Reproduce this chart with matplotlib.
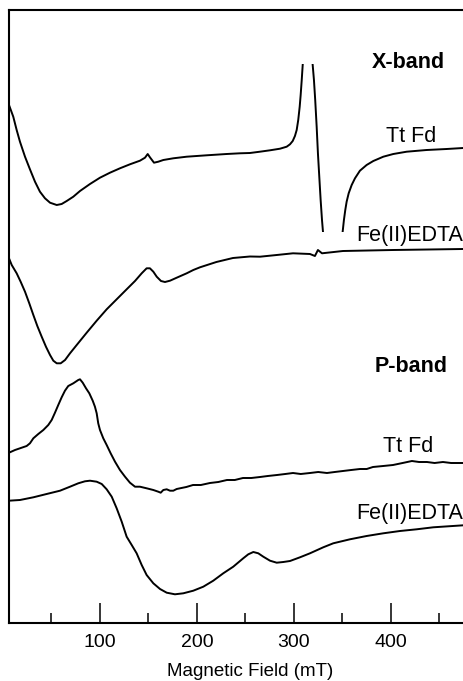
import matplotlib
matplotlib.use("Agg")
import matplotlib.pyplot as plt
from matplotlib.patches import Rectangle
from matplotlib.ticker import MultipleLocator

plt.rcParams['font.family'] = ['Liberation Sans', 'DejaVu Sans']

# ---- spectra (field in mT, derivative intensity in arbitrary units) ----
# X-band, Tt Fd (radical signal near g=2 runs off scale)
xb_fd_field = [6.2, 10.6, 14.1, 17.5, 22.7, 27.8, 33.0, 38.1, 43.3, 48.5, 55.4, 60.5,
               65.7, 72.5, 79.4, 89.7, 100.0, 110.3, 120.6, 130.9, 141.2, 146.4,
               149.2, 151.5, 155.7, 160.1, 165.3, 175.6, 189.4, 210.0, 230.6, 244.3,
               254.6, 264.9, 275.3, 285.6, 292.5, 295.9, 298.7, 301.0, 302.8, 304.4,
               305.9, 306.9, 308.0, 309.0, 313.9, 319.3, 320.6, 321.9, 323.4, 324.7,
               326.1, 327.5, 328.9, 329.9, 340.0, 350.2, 351.5, 352.9, 354.3, 356.4,
               359.5, 362.9, 368.0, 374.9, 381.8, 392.1, 402.4, 416.2, 436.8, 457.4,
               474.5]
xb_fd_signal = [48, 36.3, 23, 11.3, -3.7, -16.3, -28.7, -38.7, -45.3, -49.7, -52, -51,
                -48, -43.7, -38, -31, -24.7, -19.7, -15.3, -11.3, -7.7, -4.7,
                -1, -4.3, -9.7, -8.7, -7, -5.3, -3.7, -2.3, -1, -0.3,
                0, 1.3, 2.7, 4.3, 6.3, 8.7, 12, 17, 23, 33,
                46.3, 58, 73, 88, 150, 88, 73, 53, 26.3, -0.3,
                -23.7, -47, -67, -78.7, -140, -78.7, -67, -57, -48.7, -40.3,
                -32, -25.3, -17.7, -12, -8, -3.7, -1, 1.3, 3, 4,
                5]

# X-band, Fe(II)EDTA
xb_edta_field = [6.2, 9.0, 14.1, 18.2, 22.7, 27.1, 31.3, 35.4, 39.9, 44.3, 48.5, 51.9,
                 55.4, 59.5, 64.0, 69.1, 76.0, 86.3, 96.6, 106.9, 117.2, 127.5,
                 136.1, 143.0, 148.1, 151.5, 155.0, 158.5, 162.9, 167.0, 172.2, 179.1,
                 189.4, 196.2, 203.1, 220.0, 237.1, 254.6, 265.0, 282.2, 299.0, 316.5,
                 321.6, 324.7, 328.9, 350.5, 402.1, 474.2]
xb_edta_signal = [-8.3, -15, -23.3, -31.7, -41.7, -53.3, -65, -76, -86.7, -96.7, -105, -110.7,
                  -113.3, -113.3, -110, -103.3, -95, -82.7, -70.7, -59.3, -49.3, -39.3,
                  -31, -23.3, -18.3, -18.3, -21.7, -26.7, -31, -32, -30.7, -27.7,
                  -23.3, -20, -17.3, -12, -8, -6.5, -6.7, -5, -3.3, -4,
                  -6, 0, -3.3, -1, 0, 1]

# P-band, Tt Fd
pb_fd_field = [6.2, 12.4, 17.5, 24.4, 27.8, 31.3, 36.4, 41.6, 46.7, 50.2, 53.6, 57.0,
               60.5, 63.9, 67.3, 72.5, 77.6, 79.4, 82.2, 85.6, 89.0, 92.5, 94.8,
               96.6, 98.2, 100.0, 103.4, 106.9, 111.0, 115.5, 120.6, 125.8, 130.9,
               136.1, 141.2, 148.1, 155.0, 160.1, 162.6, 165.3, 168.8, 172.2, 175.6,
               179.1, 182.5, 189.0, 195.9, 204.0, 213.4, 222.0, 230.9, 239.0, 247.4,
               256.0, 265.0, 273.0, 282.5, 291.0, 299.0, 307.0, 316.5, 325.0, 334.0,
               342.0, 350.5, 359.0, 368.0, 375.0, 381.4, 392.0, 402.1, 412.0, 421.6,
               429.0, 437.1, 445.0, 453.6, 462.0, 474.2]
pb_fd_signal = [20.3, 23, 24.7, 27, 29.7, 34.7, 39, 43, 48, 53, 60.3, 68,
                75.7, 82.3, 87, 89.7, 93, 93.7, 90.3, 84.7, 79.7, 72.3, 66.3,
                59.7, 49.7, 43, 34.7, 28, 19.7, 11.3, 3, -3.7, -9.7,
                -13.7, -13.7, -15.3, -17, -18.7, -19.7, -17, -16.3, -17.7, -17.7,
                -16, -15.3, -14, -12, -12, -10, -9, -7, -7, -5,
                -5, -4, -3, -2, -1, 0, -1, 0, 1, 0,
                1, 2, 3, 4, 4, 6, 7, 8, 10, 12,
                11, 11, 10, 11, 10, 10]

# P-band, Fe(II)EDTA
pb_edta_field = [6.2, 17.5, 31.3, 45.0, 58.8, 69.1, 77.6, 84.5, 89.7, 96.6, 101.8,
                 106.9, 112.1, 117.2, 122.4, 127.5, 132.7, 137.8, 143.0, 148.1, 155.0,
                 161.9, 168.8, 177.3, 185.9, 196.2, 206.5, 216.8, 227.1, 237.4, 247.7,
                 252.9, 258.1, 263.2, 268.4, 275.3, 282.2, 289.0, 295.9, 306.2, 316.5,
                 330.2, 340.5, 357.7, 374.9, 392.1, 409.3, 426.5, 443.6, 474.6]
pb_edta_signal = [25.3, 26, 28.7, 32, 35.3, 39.3, 42.7, 44.7, 45.3, 44.3, 42,
                  36.7, 29.3, 17.7, 4.3, -10.7, -19, -27.3, -39, -49, -57.3,
                  -63, -66.7, -68.3, -67.3, -64.7, -60.7, -54.7, -47.3, -40.7, -32.3,
                  -28.3, -26, -27.3, -30.7, -34.7, -36.7, -36, -35, -31.3, -27.3,
                  -21.3, -17.3, -13.3, -10, -7.3, -5, -3.3, -1.3, 0.7]

# vertical offsets of the stacked traces
offsets = {"xb_fd": 470, "xb_edta": 373, "pb_fd": 150, "pb_edta": 97}
# display window of the X-band Tt Fd trace (signal is off scale outside it)
xb_fd_window = (391, 559)

labels = [("X-band", 417.5, 561, "bold"),
          ("Tt Fd", 420.6, 486, "normal"),
          ("Fe(II)EDTA", 419.6, 388, "normal"),
          ("P-band", 420.6, 256, "bold"),
          ("Tt Fd", 417.5, 177, "normal"),
          ("Fe(II)EDTA", 419.6, 110, "normal")]

xmin, xmax = 6.2, 475.3
ymin, ymax = 0, 613

fig = plt.figure(figsize=(4.64, 6.81), dpi=100)
ax = fig.add_axes([9 / 464, 58 / 681, 455 / 464, 613 / 681])

lw = 1.4
line_fd, = ax.plot(xb_fd_field, [v + offsets["xb_fd"] for v in xb_fd_signal],
                   color="black", lw=lw, solid_joinstyle="round")
clip = Rectangle((xmin, xb_fd_window[0]), xmax - xmin,
                 xb_fd_window[1] - xb_fd_window[0], transform=ax.transData)
line_fd.set_clip_path(clip)

for fld, sig, key in ((xb_edta_field, xb_edta_signal, "xb_edta"),
                      (pb_fd_field, pb_fd_signal, "pb_fd"),
                      (pb_edta_field, pb_edta_signal, "pb_edta")):
    ax.plot(fld, [v + offsets[key] for v in sig], color="black", lw=lw,
            solid_joinstyle="round")

for text, x, y, weight in labels:
    ax.text(x, y, text, ha="center", va="center", fontsize=15.5,
            fontweight=weight, color="black")

ax.set_xlim(xmin, xmax)
ax.set_ylim(ymin, ymax)

for side in ("left", "bottom", "top"):
    ax.spines[side].set_linewidth(1.5)
ax.spines["right"].set_visible(False)

ax.xaxis.set_major_locator(MultipleLocator(100))
ax.xaxis.set_minor_locator(MultipleLocator(50))
ax.tick_params(axis="x", which="major", direction="in", length=14.5, width=1.1,
               labelsize=14, pad=8, top=False)
ax.tick_params(axis="x", which="minor", direction="in", length=7.2, width=1.1,
               top=False)
ax.set_yticks([])
ax.set_xlabel("Magnetic Field (mT)", fontsize=13.5)
ax.xaxis.set_label_coords(0.53, -0.065)

fig.savefig("out.png", dpi=100)
